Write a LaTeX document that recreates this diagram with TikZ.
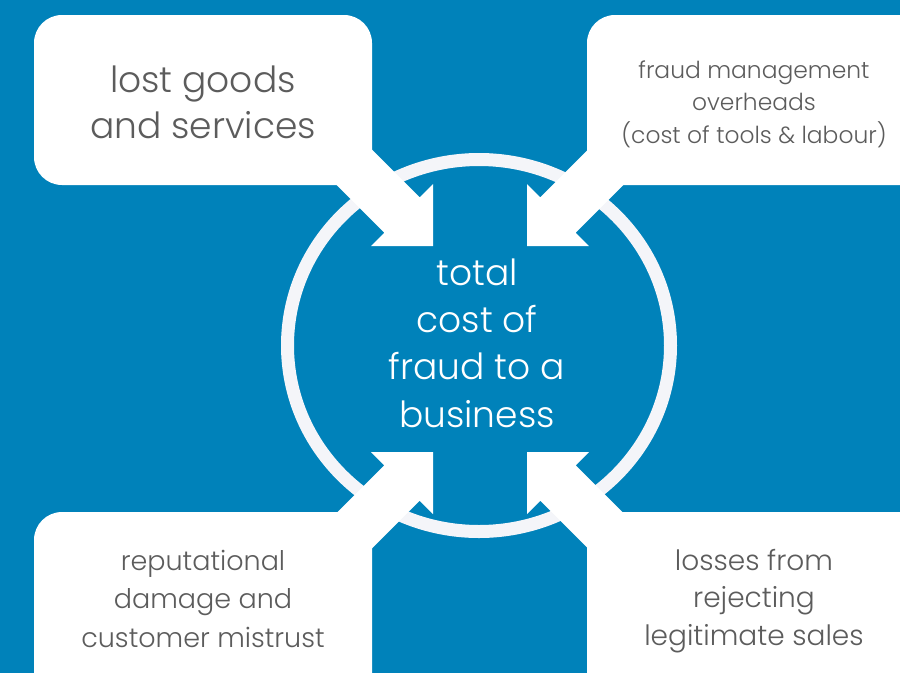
\documentclass[tikz,border=0pt]{standalone}
\usepackage{fontspec}
\setmainfont{Poppins}[UprightFont={* Light}]
\definecolor{bgblue}{RGB}{0,130,186}
\definecolor{ringwhite}{RGB}{244,245,249}
\definecolor{labelgrey}{RGB}{92,92,92}
\tikzset{
  cardbox/.style={fill=white, rounded corners=28pt},
  cardlabel/.style={text=labelgrey, align=center, anchor=base, inner sep=0pt},
  hublabel/.style={text=white, align=center, anchor=base, inner sep=0pt},
  inwardarrow/.style={fill=white}
}
% outline of one block arrow, pointing down-right towards the hub
\newcommand\inwardarrowpath{(362.7,140.3) -- (419.7,197.3) -- (433,184) -- (433,246)
  -- (371,246) -- (384.3,232.7) -- (327.3,175.7) -- cycle}
\begin{document}
\begin{tikzpicture}[x=1pt, y=-1pt]
  % canvas
  \fill[bgblue] (0,0) rectangle (900,673);
  \useasboundingbox (0,0) rectangle (900,673);
  \begin{scope}
    \clip (0,0) rectangle (900,673);
    % corner cards
    \fill[cardbox] (34,15) rectangle (372,185);
    \fill[cardbox] (587,15) rectangle (950,185);
    \fill[cardbox] (34,512) rectangle (372,730);
    \fill[cardbox] (587,512) rectangle (950,730);
    % central ring
    \draw[ringwhite, line width=13pt] (479,345.5) ellipse [x radius=191.5pt, y radius=186pt];
    % arrows pointing inwards
    \fill[inwardarrow] \inwardarrowpath;
    \begin{scope}[shift={(960,0)}, xscale=-1]
      \fill[inwardarrow] \inwardarrowpath;
    \end{scope}
    \begin{scope}[shift={(0,698)}, yscale=-1]
      \fill[inwardarrow] \inwardarrowpath;
    \end{scope}
    \begin{scope}[shift={(960,698)}, xscale=-1, yscale=-1]
      \fill[inwardarrow] \inwardarrowpath;
    \end{scope}
  \end{scope}
  % labels (anchored on the baseline of their last line)
  \node[cardlabel, font=\fontsize{36}{46}\selectfont] (lost) at (203,138)
    {lost goods\\and services};
  \node[cardlabel, font=\fontsize{23.4}{32.5}\selectfont] (overheads) at (754,143)
    {fraud management\\overheads\\(cost of tools \& labour)};
  \node[cardlabel, font=\fontsize{27}{38.5}\selectfont] (reputation) at (203,647)
    {reputational\\damage and\\customer mistrust};
  \node[cardlabel, font=\fontsize{28}{37.5}\selectfont] (rejected) at (754,645)
    {losses from\\rejecting\\legitimate sales};
  \node[hublabel, font=\fontsize{36}{47.3}\selectfont] (total) at (477,427)
    {total\\cost of\\fraud to a\\business};
\end{tikzpicture}
\end{document}
